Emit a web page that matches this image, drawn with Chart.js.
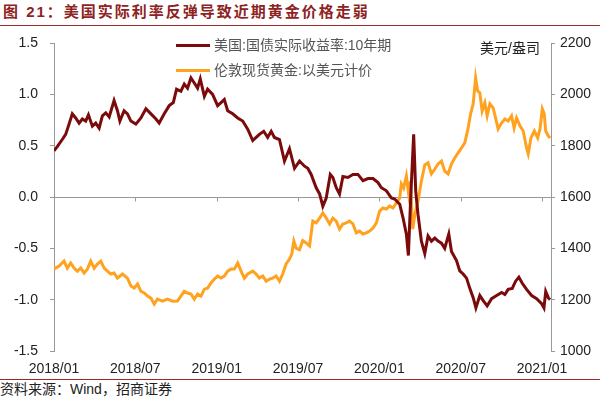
<!DOCTYPE html>
<html>
<head>
<meta charset="utf-8">
<script src="https://cdn.jsdelivr.net/npm/chart.js@4.4.0/dist/chart.umd.min.js"></script>
<style>
  body { margin:0; width:600px; height:399px; position:relative; overflow:hidden; background:#fff;
         font-family:"Liberation Sans","Noto Sans CJK SC",sans-serif; }
  #title { position:absolute; left:3px; top:3px; font-size:15px; line-height:18px; font-weight:bold;
           color:#8e2323; letter-spacing:2px; white-space:nowrap; }
  .rule { position:absolute; left:0; width:600px; height:1px; background:#9b2a2a; }
  #wrap { position:absolute; left:0; top:30px; width:600px; height:348px; }
  .leg { position:absolute; left:176px; font-size:14px; line-height:16px; color:#555; white-space:nowrap; }
  .leg i { display:inline-block; width:34px; height:3px; vertical-align:middle; margin-right:4px; position:relative; top:-1px; }
  #unit { position:absolute; left:480px; top:40px; font-size:14px; line-height:16px; color:#222; }
  #src { position:absolute; left:0; top:381px; font-size:14px; line-height:16px; color:#222; white-space:nowrap; }
</style>
</head>
<body>
<div id="title">图 21：美国实际利率反弹导致近期黄金价格走弱</div>
<div class="rule" style="top:25px"></div>
<div id="wrap"><canvas id="c"></canvas></div>
<div class="leg" style="top:37px"><i style="background:#7b0a0a"></i>美国:国债实际收益率:10年期</div>
<div class="leg" style="top:62px"><i style="background:#ffa21f"></i>伦敦现货黄金:以美元计价</div>
<div id="unit">美元/盎司</div>
<div class="rule" style="top:379px"></div>
<div id="src">资料来源：Wind，招商证券</div>
<script>
// months since 2018/01
var realYieldMonths = [0,0.24,0.61,0.86,1.11,1.35,1.6,1.85,2.09,2.34,
  2.54,2.83,3.08,3.33,3.57,3.82,4.07,4.43,4.68,4.86,
  5.17,5.42,5.67,6.04,6.41,6.78,7.15,7.52,7.76,8.13,
  8.5,8.8,9.04,9.36,9.61,9.85,10.1,10.35,10.59,10.79,
  11.09,11.33,11.7,12.07,12.32,12.56,12.81,13.18,13.55,13.92,
  14.29,14.66,14.91,15.15,15.47,15.76,16.02,16.26,16.63,17,
  17.37,17.74,18.11,18.48,18.72,18.97,19.34,19.59,19.83,20.08,
  20.38,20.57,20.82,21.06,21.31,21.68,22.05,22.42,22.79,23.16,
  23.53,23.9,24.15,24.52,24.89,25.13,25.5,25.74,25.99,26.14,
  26.31,26.53,26.68,26.85,27.1,27.35,27.59,27.84,28.09,28.33,
  28.58,28.82,29.12,29.32,29.69,29.93,30.18,30.43,30.67,30.92,
  31.12,31.41,31.66,31.95,32.28,32.65,33.02,33.26,33.5,33.8,
  34.05,34.29,34.54,34.86,35.23,35.6,35.97,36.14,36.27,36.46,
  36.59];
var realYield = [0.45,0.49,0.56,0.61,0.71,0.81,0.77,0.72,0.76,0.74,
  0.80,0.69,0.72,0.67,0.79,0.82,0.78,0.94,0.84,0.74,
  0.84,0.81,0.74,0.71,0.77,0.86,0.81,0.76,0.72,0.81,
  0.89,0.92,1.05,1.03,1.10,1.06,1.16,1.11,1.06,1.15,
  0.98,1.05,1.00,0.89,0.92,0.95,0.84,0.81,0.77,0.74,
  0.66,0.55,0.58,0.61,0.64,0.58,0.64,0.58,0.56,0.35,
  0.47,0.28,0.35,0.30,0.28,0.22,0.09,0.03,-0.09,-0.01,
  0.22,0.19,0.09,0.03,0.20,0.19,0.22,0.22,0.16,0.18,
  0.18,0.14,0.09,0.06,-0.01,-0.02,-0.07,-0.20,-0.36,-0.57,
  -0.01,0.61,0.06,-0.17,-0.43,-0.55,-0.38,-0.43,-0.40,-0.43,
  -0.45,-0.50,-0.36,-0.53,-0.62,-0.72,-0.75,-0.79,-0.89,-0.98,
  -1.08,-0.96,-1.01,-1.06,-0.99,-0.96,-0.93,-0.95,-0.90,-0.89,
  -0.82,-0.78,-0.84,-0.90,-0.96,-0.99,-1.04,-1.08,-0.92,-0.98,
  -1.00];

var goldMonths = [0,0.37,0.74,0.98,1.23,1.48,1.72,1.97,2.22,2.46,
  2.71,2.96,3.2,3.45,3.7,3.94,4.19,4.43,4.68,5.05,
  5.42,5.67,5.91,6.16,6.41,6.65,6.9,7.15,7.39,7.63,
  8,8.37,8.74,9.11,9.36,9.61,9.85,10.1,10.35,10.59,
  10.84,11.09,11.33,11.58,11.83,12.07,12.32,12.56,12.81,13.06,
  13.3,13.55,13.8,14.04,14.29,14.66,14.91,15.15,15.4,15.65,
  15.89,16.13,16.39,16.63,16.87,17.12,17.37,17.54,17.69,17.86,
  18.11,18.35,18.6,18.85,19.09,19.34,19.59,19.83,20.08,20.33,
  20.57,20.82,21.06,21.31,21.56,21.8,22.05,22.3,22.54,22.79,
  23.04,23.28,23.53,23.78,24.02,24.26,24.52,24.76,25,25.26,
  25.5,25.62,25.79,25.99,26.16,26.29,26.46,26.61,26.85,27.1,
  27.35,27.59,27.84,28.09,28.33,28.58,28.82,29.07,29.32,29.56,
  29.81,30.06,30.3,30.55,30.73,30.92,31.1,31.25,31.41,31.58,
  31.78,31.95,32.15,32.39,32.57,32.76,33.02,33.26,33.5,33.75,
  33.94,34.12,34.37,34.61,34.86,34.98,35.18,35.43,35.68,35.85,
  36.02,36.16,36.27,36.46,36.59];
var gold = [1319,1331,1350,1323,1343,1323,1311,1323,1304,1319,
  1350,1323,1339,1350,1323,1311,1300,1304,1284,1300,
  1284,1253,1245,1261,1233,1226,1214,1206,1183,1202,
  1194,1202,1194,1195,1214,1233,1226,1222,1202,1222,
  1214,1241,1245,1265,1280,1292,1284,1292,1311,1319,
  1319,1343,1311,1284,1300,1311,1300,1284,1292,1272,
  1280,1284,1292,1272,1300,1339,1358,1378,1428,1401,
  1395,1430,1421,1409,1506,1499,1518,1538,1518,1495,
  1518,1506,1475,1495,1499,1506,1495,1460,1467,1456,
  1460,1467,1479,1499,1545,1557,1553,1565,1557,1577,
  1596,1651,1635,1682,1612,1662,1475,1530,1584,1662,
  1725,1733,1690,1709,1729,1740,1701,1690,1729,1752,
  1772,1791,1811,1869,1924,1963,2064,2013,2006,1935,
  1967,1916,1963,1947,1908,1865,1889,1904,1896,1916,
  1869,1908,1877,1857,1791,1768,1830,1857,1830,1865,
  1943,1924,1857,1838,1830];

var xTickLabels = ['2018/01','2018/07','2019/01','2019/07','2020/01','2020/07','2021/01'];

Chart.defaults.font.family = '"Liberation Sans", Arial, sans-serif';

function pts(xs, ys) {
  return xs.map(function(m, i){ return {x: m, y: ys[i]}; });
}

// zero line on the left axis, with the x tick marks hanging below it
var zeroAxis = {
  id: 'zeroAxis',
  beforeDatasetsDraw: function(chart) {
    var c = chart.ctx, x = chart.scales.x, y = chart.scales.y;
    var py = Math.round(y.getPixelForValue(0)) + 0.5;
    c.save();
    c.strokeStyle = '#999';
    c.lineWidth = 1;
    c.beginPath();
    c.moveTo(chart.chartArea.left, py);
    c.lineTo(chart.chartArea.right + 3, py);
    x.ticks.forEach(function(t) {
      var px = Math.round(x.getPixelForValue(t.value)) + 0.5;
      c.moveTo(px, py);
      c.lineTo(px, py + 4);
    });
    c.stroke();
    c.restore();
  }
};

function fixY(w) {
  return function(s) { s.width = w; s.paddingTop = 0; s.paddingBottom = 0; };
}

var chart = new Chart(document.getElementById('c'), {
  type: 'line',
  data: {
    datasets: [{
      label: '美国:国债实际收益率:10年期',
      data: pts(realYieldMonths, realYield),
      yAxisID: 'y',
      borderColor: '#7b0a0a',
      borderWidth: 3,
      pointRadius: 0,
      order: 0
    }, {
      label: '伦敦现货黄金:以美元计价',
      data: pts(goldMonths, gold),
      yAxisID: 'y1',
      borderColor: '#ffa21f',
      borderWidth: 3,
      pointRadius: 0,
      order: 1
    }]
  },
  options: {
    responsive: true,
    maintainAspectRatio: false,
    animation: false,
    devicePixelRatio: 1,
    layout: { padding: { top: 13 } },
    plugins: { legend: { display: false }, tooltip: { enabled: false } },
    scales: {
      x: {
        type: 'linear', min: 0, max: 36.66, position: 'bottom',
        afterFit: function(s){ s.height = 27; },
        border: { display: false },
        grid: { display: false, drawTicks: false },
        ticks: { stepSize: 6, includeBounds: false, autoSkip: false, maxRotation: 0, padding: 10,
                 color: '#222', font: { size: 14 },
                 callback: function(v){ return xTickLabels[Math.round(v / 6)]; } }
      },
      y: {
        position: 'left', min: -1.5, max: 1.5,
        afterFit: fixY(54),
        border: { color: '#999' },
        grid: { drawOnChartArea: false, tickLength: 4, color: '#999' },
        ticks: { stepSize: 0.5, padding: 12, color: '#222', font: { size: 14 },
                 callback: function(v){ return v.toFixed(1); } }
      },
      y1: {
        position: 'right', min: 1000, max: 2200,
        afterFit: fixY(49),
        border: { color: '#999' },
        grid: { drawOnChartArea: false, tickLength: 4, color: '#999' },
        ticks: { stepSize: 200, padding: 5, color: '#222', font: { size: 14 },
                 callback: function(v){ return String(v); } }
      }
    }
  },
  plugins: [zeroAxis]
});
</script>
</body>
</html>
